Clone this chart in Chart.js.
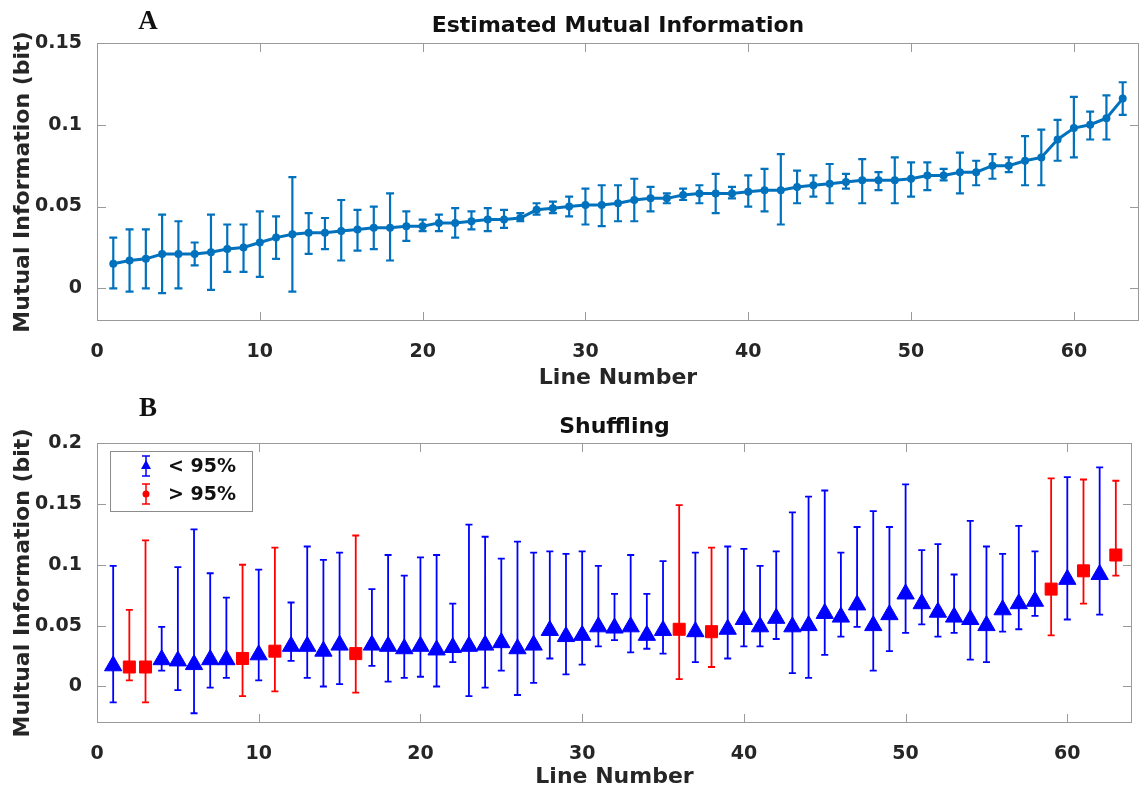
<!DOCTYPE html>
<html>
<head>
<meta charset="utf-8">
<script src="https://cdn.jsdelivr.net/npm/chart.js@4.4.1/dist/chart.umd.min.js"></script>
<style>
  html, body { margin: 0; padding: 0; background: #fff; }
  #wrap { position: relative; width: 1143px; height: 790px; }
  .panel { position: absolute; left: 0; width: 1143px; height: 395px; }
</style>
</head>
<body>
<div id="wrap">
  <div class="panel" style="top:0"><canvas id="chartA" width="1143" height="395"></canvas></div>
  <div class="panel" style="top:395px"><canvas id="chartB" width="1143" height="395"></canvas></div>
</div>
<script>
// ---- data ----
const lineNumbers = Array.from({length: 63}, (_, i) => i + 1);

// A: estimated mutual information (mean, lower and upper error bar ends)
const miMean = [0.015, 0.017, 0.018, 0.021, 0.021, 0.021, 0.022, 0.024, 0.025, 0.028,
  0.031, 0.033, 0.034, 0.034, 0.035, 0.036, 0.037, 0.037, 0.038, 0.038,
  0.040, 0.040, 0.041, 0.042, 0.042, 0.043, 0.048, 0.049, 0.050, 0.051,
  0.051, 0.052, 0.054, 0.055, 0.055, 0.057, 0.058, 0.058, 0.058, 0.059,
  0.060, 0.060, 0.062, 0.063, 0.064, 0.065, 0.066, 0.066, 0.066, 0.067,
  0.069, 0.069, 0.071, 0.071, 0.075, 0.075, 0.078, 0.080, 0.091, 0.098,
  0.100, 0.104, 0.116];
const miLow = [0.000, -0.002, 0.000, -0.003, 0.000, 0.014, -0.001, 0.010, 0.010, 0.007,
  0.018, -0.002, 0.021, 0.024, 0.017, 0.023, 0.024, 0.017, 0.029, 0.035,
  0.035, 0.031, 0.036, 0.035, 0.037, 0.041, 0.045, 0.046, 0.044, 0.039,
  0.038, 0.041, 0.041, 0.047, 0.052, 0.054, 0.052, 0.046, 0.055, 0.050,
  0.047, 0.039, 0.052, 0.056, 0.052, 0.061, 0.052, 0.060, 0.052, 0.056,
  0.060, 0.066, 0.058, 0.063, 0.067, 0.071, 0.063, 0.063, 0.078, 0.080,
  0.091, 0.091, 0.106];
const miHigh = [0.031, 0.036, 0.036, 0.045, 0.041, 0.028, 0.045, 0.039, 0.039, 0.047,
  0.044, 0.068, 0.046, 0.043, 0.054, 0.048, 0.050, 0.058, 0.047, 0.042,
  0.045, 0.049, 0.047, 0.049, 0.048, 0.046, 0.052, 0.053, 0.056, 0.061,
  0.063, 0.063, 0.067, 0.062, 0.058, 0.061, 0.063, 0.070, 0.062, 0.069,
  0.073, 0.082, 0.072, 0.069, 0.076, 0.070, 0.079, 0.071, 0.080, 0.077,
  0.077, 0.073, 0.083, 0.078, 0.082, 0.080, 0.093, 0.097, 0.103, 0.117,
  0.108, 0.118, 0.126];

// B: shuffling
const shufMean = [0.017, 0.016, 0.016, 0.022, 0.021, 0.018, 0.022, 0.022, 0.023, 0.026,
  0.029, 0.033, 0.033, 0.029, 0.034, 0.027, 0.034, 0.033, 0.031, 0.033,
  0.030, 0.032, 0.033, 0.034, 0.036, 0.031, 0.034, 0.046, 0.041, 0.042,
  0.049, 0.048, 0.049, 0.042, 0.046, 0.047, 0.045, 0.045, 0.047, 0.055,
  0.049, 0.056, 0.049, 0.050, 0.060, 0.057, 0.067, 0.050, 0.059, 0.076,
  0.068, 0.061, 0.057, 0.055, 0.050, 0.063, 0.068, 0.070, 0.080, 0.088,
  0.095, 0.092, 0.108];
const shufLow = [-0.013, 0.005, -0.013, 0.013, -0.003, -0.022, -0.001, 0.007, -0.008, 0.005,
  -0.004, 0.021, 0.007, 0.000, 0.002, -0.005, 0.017, 0.004, 0.007, 0.008,
  0.000, 0.020, -0.008, -0.001, 0.013, -0.007, 0.003, 0.023, 0.010, 0.018,
  0.033, 0.038, 0.028, 0.031, 0.027, 0.006, 0.020, 0.016, 0.023, 0.033,
  0.033, 0.039, 0.011, 0.007, 0.026, 0.041, 0.049, 0.013, 0.029, 0.044,
  0.051, 0.041, 0.044, 0.022, 0.020, 0.045, 0.047, 0.058, 0.042, 0.055,
  0.068, 0.059, 0.091];
const shufHigh = [0.099, 0.063, 0.120, 0.049, 0.098, 0.129, 0.093, 0.073, 0.100, 0.096,
  0.114, 0.069, 0.115, 0.104, 0.110, 0.124, 0.080, 0.108, 0.091, 0.106,
  0.108, 0.068, 0.133, 0.123, 0.105, 0.119, 0.110, 0.111, 0.109, 0.111,
  0.099, 0.076, 0.108, 0.076, 0.103, 0.149, 0.110, 0.114, 0.115, 0.113,
  0.099, 0.111, 0.143, 0.156, 0.161, 0.110, 0.131, 0.144, 0.131, 0.166,
  0.112, 0.117, 0.092, 0.136, 0.115, 0.109, 0.132, 0.111, 0.171, 0.172,
  0.170, 0.180, 0.169];
// lines above the 95% shuffle level
const significant = [2, 3, 9, 11, 16, 36, 38, 59, 61, 63];

const xTicks = [0, 10, 20, 30, 40, 50, 60];
const yTicksA = [0, 0.05, 0.1, 0.15];
const yTicksB = [0, 0.05, 0.1, 0.15, 0.2];

// ---- plugins ----
const FONT = '"DejaVu Sans", "Liberation Sans", sans-serif';

// vertical error bars with caps, drawn under the markers
const errorBarPlugin = {
  id: 'errorBars',
  beforeDatasetsDraw(chart) {
    const {ctx, scales: {x, y}} = chart;
    chart.data.datasets.forEach(ds => {
      if (!ds.errLow) return;
      const c = ds.capWidth / 2;
      ctx.save();
      ctx.strokeStyle = ds.borderColor;
      ctx.lineWidth = ds.errWidth;
      ctx.beginPath();
      ds.data.forEach((p, j) => {
        const px = x.getPixelForValue(p.x);
        const lo = y.getPixelForValue(ds.errLow[j]);
        const hi = y.getPixelForValue(ds.errHigh[j]);
        ctx.moveTo(px, lo); ctx.lineTo(px, hi);
        ctx.moveTo(px - c, lo); ctx.lineTo(px + c, lo);
        ctx.moveTo(px - c, hi); ctx.lineTo(px + c, hi);
      });
      ctx.stroke();
      ctx.restore();
    });
  }
};

// matlab-like box with inward ticks, panel title, panel letter, legend
const framePlugin = {
  id: 'frame',
  afterDatasetsDraw(chart, args, opts) {
    const {ctx, chartArea: a, scales: {x, y}} = chart;
    ctx.save();
    ctx.strokeStyle = '#9a9a9a';
    ctx.lineWidth = 1;
    ctx.strokeRect(a.left + 0.5, a.top + 0.5, a.right - a.left - 1, a.bottom - a.top - 1);
    const tl = 9;
    ctx.beginPath();
    x.ticks.forEach(t => {
      const px = Math.round(x.getPixelForValue(t.value)) + 0.5;
      ctx.moveTo(px, a.bottom); ctx.lineTo(px, a.bottom - tl);
      ctx.moveTo(px, a.top); ctx.lineTo(px, a.top + tl);
    });
    y.ticks.forEach(t => {
      const py = Math.round(y.getPixelForValue(t.value)) + 0.5;
      ctx.moveTo(a.left, py); ctx.lineTo(a.left + tl, py);
      ctx.moveTo(a.right, py); ctx.lineTo(a.right - tl, py);
    });
    ctx.stroke();

    ctx.fillStyle = '#111';
    ctx.textAlign = 'center';
    ctx.textBaseline = 'alphabetic';
    ctx.font = 'bold 22px ' + FONT;
    ctx.fillText(opts.title, (a.left + a.right) / 2, opts.titleY);
    ctx.font = 'bold 27px "Liberation Serif", "Times New Roman", serif';
    ctx.fillText(opts.letter, 148, opts.letterY);

    if (opts.legend) {
      const L = opts.legend;
      ctx.fillStyle = '#fff';
      ctx.fillRect(L.x, L.y, L.w, L.h);
      ctx.strokeStyle = '#8c8c8c';
      ctx.strokeRect(L.x + 0.5, L.y + 0.5, L.w, L.h);
      L.items.forEach((it, k) => {
        const cy = L.y + 15 + k * 28;
        const ix = L.x + 36;
        ctx.strokeStyle = it.color;
        ctx.fillStyle = it.color;
        ctx.lineWidth = 1.5;
        ctx.beginPath();
        ctx.moveTo(ix, cy - 10); ctx.lineTo(ix, cy + 10);
        ctx.moveTo(ix - 4, cy - 10); ctx.lineTo(ix + 4, cy - 10);
        ctx.moveTo(ix - 4, cy + 10); ctx.lineTo(ix + 4, cy + 10);
        ctx.stroke();
        ctx.beginPath();
        if (it.marker === 'triangle') {
          ctx.moveTo(ix, cy - 6); ctx.lineTo(ix + 5, cy + 3); ctx.lineTo(ix - 5, cy + 3);
          ctx.closePath();
        } else {
          ctx.arc(ix, cy, 3.5, 0, Math.PI * 2);
        }
        ctx.fill();
        ctx.fillStyle = '#111';
        ctx.textAlign = 'left';
        ctx.textBaseline = 'middle';
        ctx.font = 'bold 19px ' + FONT;
        ctx.fillText(it.text, L.x + 58, cy + 1);
      });
    }
    ctx.restore();
  }
};

function axes(yMin, yMax, yTicks, yTitle, xHeight, xTitlePad) {
  const tickFont = {family: FONT, size: 19, weight: 'bold'};
  const titleFont = {family: FONT, size: 22, weight: 'bold'};
  return {
    x: {
      type: 'linear', min: 0, max: 64,
      grid: {display: false}, border: {display: false},
      afterBuildTicks: s => { s.ticks = xTicks.map(v => ({value: v})); },
      afterFit: s => { s.height = xHeight; },
      ticks: {font: tickFont, color: '#262626', padding: 12, maxRotation: 0, autoSkip: false,
        callback: v => String(v)},
      title: {display: true, text: 'Line Number', font: titleFont, color: '#262626',
        padding: {top: 0, bottom: xTitlePad}}
    },
    y: {
      min: yMin, max: yMax,
      grid: {display: false}, border: {display: false},
      afterBuildTicks: s => { s.ticks = yTicks.map(v => ({value: v})); },
      afterFit: s => { s.width = 97; },
      ticks: {font: tickFont, color: '#262626', padding: 7,
        callback: v => String(+v.toFixed(2))},
      title: {display: true, text: yTitle, font: titleFont, color: '#262626',
        padding: {top: 10, bottom: 0}}
    }
  };
}

// ---- A: estimated mutual information ----
new Chart(document.getElementById('chartA'), {
  type: 'line',
  data: {
    datasets: [{
      data: lineNumbers.map((n, i) => ({x: n, y: miMean[i]})),
      errLow: miLow, errHigh: miHigh, errWidth: 2.2, capWidth: 8,
      borderColor: '#0072BD', backgroundColor: '#0072BD',
      borderWidth: 3, tension: 0,
      pointRadius: 4, pointBackgroundColor: '#0072BD', pointBorderWidth: 0
    }]
  },
  options: {
    responsive: false, animation: false, devicePixelRatio: 1,
    layout: {padding: {top: 43, right: 3, left: 0, bottom: 0}},
    scales: axes(-0.02, 0.15, yTicksA, 'Mutual Information (bit)', 74, 4),
    plugins: {
      legend: {display: false}, tooltip: {enabled: false},
      frame: {title: 'Estimated Mutual Information', titleY: 32, letter: 'A', letterY: 29}
    }
  },
  plugins: [errorBarPlugin, framePlugin]
});

// ---- B: shuffling ----
const pick = (arr, sig) => lineNumbers.map((n, i) => ({n, v: arr[i]}))
  .filter(d => significant.includes(d.n) === sig);

new Chart(document.getElementById('chartB'), {
  type: 'scatter',
  data: {
    datasets: [{
      label: '< 95%',
      data: pick(shufMean, false).map(d => ({x: d.n, y: d.v})),
      errLow: pick(shufLow, false).map(d => d.v), errHigh: pick(shufHigh, false).map(d => d.v),
      errWidth: 1.8, capWidth: 7,
      borderColor: '#0000ff', backgroundColor: '#0000ff',
      pointStyle: 'triangle', pointRadius: 10, pointBorderWidth: 1
    }, {
      label: '> 95%',
      data: pick(shufMean, true).map(d => ({x: d.n, y: d.v})),
      errLow: pick(shufLow, true).map(d => d.v), errHigh: pick(shufHigh, true).map(d => d.v),
      errWidth: 1.8, capWidth: 7,
      borderColor: '#ff0000', backgroundColor: '#ff0000',
      pointStyle: 'rect', pointRadius: 8.5, pointBorderWidth: 1
    }]
  },
  options: {
    responsive: false, animation: false, devicePixelRatio: 1,
    layout: {padding: {top: 48, right: 3, left: 0, bottom: 0}},
    scales: axes(-0.03, 0.2, yTicksB, 'Multual Information (bit)', 67, 0),
    plugins: {
      legend: {display: false}, tooltip: {enabled: false},
      frame: {
        title: 'Shuffling', titleY: 38, letter: 'B', letterY: 21,
        legend: {x: 110, y: 56, w: 142, h: 60, items: [
          {text: '< 95%', color: '#0000ff', marker: 'triangle'},
          {text: '> 95%', color: '#ff0000', marker: 'circle'}
        ]}
      }
    }
  },
  plugins: [errorBarPlugin, framePlugin]
});
</script>
</body>
</html>
